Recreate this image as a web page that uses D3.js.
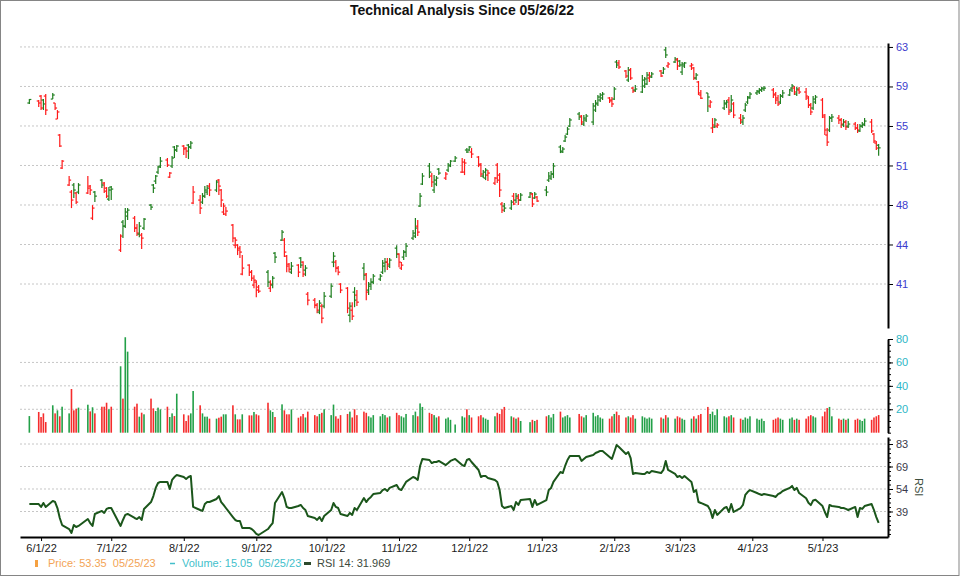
<!DOCTYPE html>
<html>
<head>
<meta charset="utf-8">
<script src="https://cdn.jsdelivr.net/npm/d3@7"></script>
<style>
  body { margin: 0; background: #fff; }
  svg { display: block; font-family: "Liberation Sans", Arial, sans-serif; }
  .legend text { white-space: pre; }
</style>
</head>
<body>
<div id="chart"></div>
<script>
// trading calendar
const firstDay = "2022-05-27";
const lastDay = "2023-05-25";
const holidays = ["2022-05-30", "2022-06-20", "2022-07-04", "2022-09-05", "2022-11-24",
  "2022-12-26", "2023-01-02", "2023-01-16", "2023-02-20", "2023-04-07"];

// daily OHLC, one line per month
const open = [
  57.55, 57.74,
  58.20, 57.83, 58.20, 57.92, 57.55, 56.05, 54.55, 51.46, 49.87, 49.21, 49.87, 49.12, 49.21, 49.12, 49.77, 46.77, 49.21, 50.33, 50.05, 49.58, 48.55,
  49.68, 43.78, 46.40, 46.02, 46.96, 46.77, 45.84, 45.27, 45.18, 45.84, 47.99, 49.87, 50.24, 51.08, 51.65, 52.21, 50.61, 51.65, 53.43, 53.15,
  53.52, 53.33, 53.61, 53.43, 48.18, 48.46, 48.27, 48.83, 49.21, 49.77, 49.40, 50.33, 49.40, 47.34, 47.15, 46.12, 44.24, 44.24, 43.96, 41.53, 42.37, 41.71, 40.50,
  40.78, 40.31, 41.71, 40.21, 40.50, 43.49, 44.71, 44.71, 43.21, 42.46, 41.71, 42.37, 43.03, 42.65, 41.90, 39.65, 39.09, 38.62, 37.97, 38.53, 38.53,
  39.46, 42.65, 42.65, 42.09, 40.59, 40.21, 37.68, 38.15, 39.84, 39.56, 42.09, 41.53, 40.03, 40.59, 40.78, 41.06, 41.71, 42.28, 42.65, 42.28, 43.96,
  43.40, 42.09, 43.12, 43.59, 44.90, 45.09, 46.02, 47.90, 49.96, 51.65, 50.71, 49.40, 49.96, 51.36, 50.52, 51.27, 51.65, 52.11, 51.08, 51.08, 53.15,
  53.15, 52.96, 52.49, 51.74, 50.71, 50.52, 50.80, 50.05, 51.74, 50.80, 48.09, 47.90, 47.71, 48.83, 48.46, 48.65, 48.46, 48.74, 49.02, 48.65, 48.74,
  49.40, 50.33, 50.52, 50.90, 53.43, 52.96, 53.99, 54.64, 55.39, 56.52, 56.33, 55.58, 55.96, 55.77, 56.89, 57.46, 57.83, 58.02, 58.02, 57.83,
  57.92, 61.39, 61.30, 60.55, 59.70, 60.64, 58.95, 58.77, 58.58, 59.14, 59.33, 59.89, 59.98, 60.55, 60.36, 62.52, 61.02, 61.39, 61.58,
  61.48, 60.45, 61.02, 61.02, 60.83, 59.89, 59.52, 58.30, 58.49, 57.27, 55.21, 55.30, 55.39, 57.08, 57.46, 57.83, 56.89, 57.46, 56.14, 55.77, 56.89, 57.64, 58.11,
  58.49, 58.58, 58.77, 58.86, 58.77, 58.39, 58.02, 57.64, 58.20, 58.30, 58.95, 58.95, 58.39, 58.77, 58.58, 58.02, 57.36, 57.08, 57.64,
  57.83, 56.24, 54.55, 55.02, 56.14, 56.14, 55.96, 55.49, 55.77, 55.39, 55.58, 55.21, 54.93, 55.39, 55.58, 55.77, 54.64, 53.80, 53.60
];
const high = [
  57.92, 57.83,
  58.30, 57.92, 58.39, 58.49, 57.55, 56.89, 54.64, 52.21, 50.71, 49.40, 50.05, 49.21, 50.05, 50.71, 49.87, 47.99, 49.30, 50.43, 50.15, 49.68, 49.68,
  49.77, 45.27, 46.59, 47.71, 47.71, 46.96, 46.21, 46.40, 45.37, 46.77, 48.09, 49.96, 50.80, 51.65, 52.49, 52.40, 51.08, 52.58, 53.52, 53.61,
  53.61, 53.43, 53.71, 53.99, 49.77, 48.93, 49.12, 49.77, 49.87, 50.05, 50.33, 50.43, 49.49, 48.18, 47.80, 46.21, 44.99, 44.34, 44.15, 43.31, 42.46, 41.90, 41.43,
  40.96, 40.50, 41.90, 40.96, 41.34, 43.59, 45.65, 44.90, 43.31, 42.56, 42.65, 42.46, 43.12, 42.74, 42.37, 39.84, 39.28, 38.81, 39.09, 38.72, 39.84,
  40.68, 43.59, 42.84, 42.28, 40.68, 40.31, 38.90, 38.90, 40.31, 40.03, 42.56, 41.62, 40.78, 41.15, 41.53, 41.53, 42.84, 43.03, 43.03, 43.03, 44.24,
  43.49, 42.65, 43.78, 44.43, 45.65, 46.77, 46.59, 49.12, 50.99, 51.93, 50.99, 50.80, 50.71, 51.46, 51.08, 51.93, 52.21, 52.58, 52.40, 52.30, 53.33,
  53.52, 53.33, 52.58, 51.93, 51.27, 51.46, 51.27, 50.61, 51.93, 50.99, 48.27, 48.18, 48.46, 49.12, 49.12, 49.02, 49.12, 49.21, 49.12, 49.21, 48.83,
  49.77, 51.08, 51.18, 51.93, 53.61, 53.43, 54.55, 55.30, 56.14, 56.71, 56.42, 56.42, 56.52, 57.55, 57.83, 58.30, 58.49, 58.58, 58.11, 58.11,
  59.05, 61.58, 61.58, 60.64, 60.92, 60.83, 59.05, 59.24, 60.17, 59.98, 60.45, 60.45, 60.45, 60.64, 60.92, 62.80, 61.39, 61.86, 61.77,
  61.58, 61.39, 61.39, 61.30, 60.92, 60.36, 59.61, 58.77, 58.49, 57.83, 56.14, 56.14, 55.67, 57.83, 57.83, 58.11, 58.30, 57.64, 56.52, 56.42, 57.55, 58.20, 58.58,
  58.77, 58.95, 59.05, 59.14, 58.95, 58.58, 58.30, 58.39, 58.77, 58.86, 59.33, 59.14, 59.05, 59.05, 58.95, 58.20, 57.55, 58.20, 58.30,
  58.02, 56.52, 55.21, 56.33, 56.52, 56.42, 56.14, 56.05, 55.96, 55.86, 55.77, 55.58, 55.58, 55.77, 56.14, 56.05, 54.74, 53.99, 53.70
];
const low = [
  57.46, 57.17,
  56.89, 56.89, 56.42, 57.92, 56.89, 56.05, 53.43, 51.37, 49.77, 47.71, 48.65, 48.09, 49.02, 49.02, 48.93, 46.59, 48.27, 49.58, 49.12, 48.65, 48.37,
  48.46, 43.59, 44.90, 45.84, 46.59, 45.46, 45.09, 44.99, 43.87, 45.65, 47.52, 49.12, 49.96, 50.90, 51.46, 51.55, 50.52, 51.46, 52.40, 52.96,
  52.68, 52.40, 52.30, 53.24, 48.09, 47.15, 48.09, 48.65, 48.93, 48.83, 49.21, 48.93, 47.80, 47.06, 46.96, 44.52, 43.96, 43.31, 43.03, 41.43, 41.34, 40.87, 40.21,
  39.37, 39.75, 40.31, 39.84, 40.21, 42.56, 44.62, 43.12, 41.71, 41.71, 41.53, 41.25, 42.09, 41.25, 41.34, 38.62, 38.34, 37.87, 37.78, 36.93, 38.34,
  39.28, 42.18, 41.71, 41.43, 39.75, 37.87, 37.03, 37.22, 38.43, 38.53, 40.96, 39.09, 39.56, 40.03, 40.59, 40.87, 41.53, 41.71, 41.90, 42.09, 43.03,
  42.18, 41.90, 42.84, 43.12, 44.71, 44.90, 45.09, 47.80, 49.87, 50.52, 49.68, 49.12, 49.77, 50.80, 50.33, 51.08, 51.55, 52.02, 50.99, 50.80, 52.86,
  53.05, 52.40, 51.55, 50.61, 50.52, 50.33, 50.24, 49.87, 50.05, 48.74, 47.24, 47.34, 47.52, 47.99, 48.18, 47.99, 48.37, 48.65, 47.80, 48.55, 48.27,
  48.83, 50.15, 50.33, 50.52, 52.86, 52.86, 53.89, 54.55, 55.30, 55.96, 55.49, 55.39, 55.77, 55.49, 56.71, 57.27, 57.64, 57.83, 57.55, 57.17,
  57.83, 60.83, 60.73, 59.89, 59.52, 59.70, 58.49, 58.58, 58.49, 58.95, 59.24, 59.52, 59.89, 59.98, 60.27, 61.77, 60.83, 61.30, 60.64,
  60.92, 60.17, 60.83, 60.64, 59.70, 59.70, 58.30, 57.92, 56.71, 57.08, 54.74, 55.21, 55.21, 56.89, 57.08, 56.42, 56.71, 56.14, 55.58, 55.49, 56.71, 57.46, 57.92,
  58.30, 58.39, 58.58, 58.67, 58.02, 57.46, 57.27, 57.46, 58.02, 58.20, 58.58, 58.30, 58.20, 58.39, 57.83, 57.08, 56.42, 56.89, 57.46,
  56.14, 54.55, 53.52, 54.83, 55.77, 55.58, 55.21, 55.30, 55.02, 55.21, 55.02, 54.74, 54.83, 55.21, 55.39, 54.74, 53.80, 53.15, 52.60
];
const close = [
  57.88, 57.55,
  57.08, 57.46, 56.89, 58.30, 57.08, 56.71, 53.52, 52.11, 50.33, 48.46, 49.40, 48.27, 49.87, 49.58, 49.40, 47.71, 48.83, 49.87, 49.30, 48.83, 49.40,
  49.49, 45.09, 46.02, 47.34, 47.52, 45.84, 45.37, 46.02, 44.90, 46.68, 47.80, 49.58, 50.71, 51.55, 52.11, 51.74, 50.99, 52.40, 53.15, 53.52,
  53.24, 53.05, 53.43, 53.80, 49.21, 47.71, 48.83, 49.40, 49.58, 49.40, 50.15, 49.77, 48.46, 47.90, 47.43, 44.90, 44.71, 43.78, 43.59, 42.09, 41.71, 41.15, 40.96,
  40.03, 39.93, 40.78, 40.59, 41.15, 43.12, 45.46, 43.59, 42.28, 41.99, 42.28, 41.71, 42.37, 41.53, 42.09, 39.09, 38.62, 38.15, 38.81, 37.40, 39.46,
  40.40, 43.21, 42.09, 41.71, 40.03, 38.34, 38.53, 37.59, 39.09, 38.90, 41.43, 39.84, 40.40, 40.78, 41.34, 41.34, 42.56, 42.65, 42.46, 42.84, 43.40,
  42.65, 42.37, 43.59, 44.15, 45.37, 45.84, 45.46, 48.83, 50.71, 51.08, 50.15, 50.33, 50.52, 50.99, 50.90, 51.74, 52.11, 52.40, 52.02, 51.93, 52.96,
  53.43, 52.77, 51.83, 50.90, 51.08, 51.27, 50.99, 50.52, 50.33, 49.40, 47.52, 47.71, 48.27, 48.09, 48.83, 48.46, 48.93, 49.12, 48.09, 49.02, 48.37,
  49.21, 50.71, 50.90, 51.65, 53.05, 53.24, 54.36, 55.11, 55.96, 56.24, 55.77, 56.14, 56.33, 57.27, 57.55, 58.11, 58.30, 58.39, 57.74, 57.46,
  58.86, 61.11, 60.92, 60.08, 60.64, 59.89, 58.67, 58.86, 59.70, 59.80, 60.17, 60.08, 60.27, 60.08, 60.73, 62.05, 61.20, 61.67, 61.02,
  61.11, 61.20, 61.30, 61.11, 59.89, 60.17, 58.49, 58.00, 58.11, 57.64, 55.49, 55.96, 55.49, 57.55, 57.64, 56.71, 57.83, 56.42, 55.96, 56.14, 57.36, 58.02, 58.39,
  58.67, 58.77, 58.95, 58.95, 58.30, 57.83, 57.46, 58.20, 58.49, 58.77, 59.14, 58.58, 58.86, 58.58, 58.20, 57.36, 56.71, 57.92, 58.11,
  56.42, 55.02, 53.89, 56.14, 56.24, 55.96, 55.58, 55.77, 55.30, 55.58, 55.21, 55.02, 55.39, 55.49, 55.86, 54.93, 53.99, 53.33, 53.35
];
// daily volume (millions), one line per month
const volume = [
  14.2, 17.7,
  13.4, 16.5, 9.1, 23.4, 16.5, 19.1, 14.0, 22.2, 16.5, 37.3, 19.1, 20.5, 21.4, 23.9, 18.2, 21.7, 16.5, 22.2, 22.2, 25.6, 20.0,
  22.2, 56.7, 29.1, 81.5, 69.2, 22.2, 24.8, 13.7, 17.1, 15.7, 29.1, 20.8, 18.5, 21.4, 19.9, 22.2, 13.4, 16.5, 14.2, 33.3,
  15.7, 10.0, 14.8, 16.5, 35.6, 23.4, 16.5, 13.7, 13.7, 12.0, 12.0, 12.8, 13.7, 15.7, 15.7, 23.4, 15.7, 11.4, 11.4, 15.7, 14.8, 14.8, 17.7,
  15.7, 14.8, 25.6, 19.1, 17.7, 13.4, 24.2, 19.1, 15.7, 15.7, 19.9, 12.8, 14, 16, 13, 18, 15, 14, 16, 17, 20,
  15, 24, 14, 12, 15, 16, 18, 13, 20, 15, 18, 17, 14, 13, 15, 14, 16, 15, 13, 14, 17,
  15, 14, 13, 16, 15, 18, 14, 25, 22, 17, 16, 15, 13, 14, 12, 13, 11, 7, 14, 13, 20,
  15, 13, 14, 15, 13, 12, 11, 14, 17, 16, 20, 22, 14, 13, 12, 13, 10, 9, 11, 10, 11,
  14, 15, 13, 16, 18, 13, 14, 15, 13, 16, 14, 13, 15, 17, 14, 15, 13, 12, 12, 14,
  16, 18, 15, 13, 14, 13, 15, 12, 14, 13, 12, 13, 12, 13, 12, 15, 13, 12, 14,
  13, 12, 11, 12, 14, 12, 15, 16, 22, 16, 18, 15, 20, 14, 13, 14, 15, 13, 12, 11, 13, 12, 14,
  12, 11, 12, 10, 11, 12, 13, 12, 11, 12, 13, 11, 12, 11, 12, 14, 15, 14, 13,
  14, 18, 21, 22, 14, 12, 11, 12, 11, 12, 11, 12, 11, 10, 12, 11, 13, 14, 15.05
];
// RSI 14, one line per month
const rsi = [
  44.2, 44.2,
  42.3, 44.9, 42.3, 46.2, 45.5, 41.6, 35.1, 30.5, 27.9, 25.3, 30.5, 29.2, 29.9, 34.4, 31.8, 29.9, 37.7, 39.7, 38.4, 41.0, 41.6,
  41.6, 29.9, 33.8, 37.1, 37.7, 35.1, 34.4, 35.7, 33.8, 41.0, 45.5, 49.4, 54.7, 57.9, 58.6, 58.6, 54.0, 59.9, 61.8, 63.1,
  61.8, 60.5, 61.8, 62.5, 42.3, 40.3, 39.7, 44.2, 45.5, 45.5, 47.5, 49.4, 45.5, 43.6, 41.6, 35.7, 33.8, 33.1, 33.1, 28.6, 28.6, 27.9, 26.6,
  24.7, 24.0, 27.9, 29.9, 31.8, 44.9, 52.0, 48.1, 42.3, 41.6, 41.6, 42.9, 43.6, 41.6, 40.3, 36.4, 35.1, 33.8, 35.7, 33.1, 36.4,
  40.3, 44.9, 42.3, 41.6, 37.7, 36.4, 38.4, 37.1, 41.6, 40.3, 48.1, 45.5, 47.5, 48.8, 50.7, 51.4, 53.3, 54.0, 52.7, 54.7, 56.6,
  54.0, 53.3, 56.0, 58.6, 61.8, 61.2, 59.9, 69.0, 73.6, 72.9, 70.9, 71.6, 71.6, 72.3, 69.6, 70.9, 72.3, 73.6, 69.6, 69.0, 72.9,
  73.6, 71.6, 66.4, 61.8, 62.5, 62.5, 61.2, 59.9, 58.6, 53.3, 42.9, 41.6, 42.9, 40.3, 45.5, 43.6, 46.8, 47.5, 42.3, 46.8, 43.6,
  46.8, 53.3, 54.7, 58.6, 65.1, 64.4, 69.0, 72.9, 75.5, 75.5, 72.3, 73.6, 74.9, 76.2, 77.5, 78.1, 78.8, 78.8, 74.9, 73.6,
  78.1, 82.7, 81.4, 76.8, 78.1, 74.2, 63.8, 64.4, 63.8, 63.8, 65.1, 64.4, 65.7, 64.4, 66.4, 72.3, 66.4, 63.8, 61.8,
  62.5, 61.2, 62.5, 58.6, 52.0, 53.3, 45.5, 44.9, 42.9, 40.3, 35.1, 40.3, 37.1, 41.6, 42.3, 39.0, 44.2, 39.0, 41.6, 43.6, 50.1, 52.0, 53.3,
  51.4, 50.7, 50.1, 50.7, 49.4, 48.8, 50.7, 51.4, 52.7, 54.7, 56.0, 53.3, 54.7, 51.4, 48.0, 45.0, 43.5, 46.5, 47.0,
  42.9, 39.0, 35.7, 43.6, 42.9, 42.3, 41.6, 41.6, 41.0, 40.3, 42.3, 35.7, 41.6, 41.0, 42.9, 44.2, 40.3, 35.7, 31.969
];

// axis ticks and labels
const monthTicks = ["2022-06-01", "2022-07-01", "2022-08-01", "2022-09-01", "2022-10-01", "2022-11-01",
  "2022-12-01", "2023-01-01", "2023-02-01", "2023-03-01", "2023-04-01", "2023-05-01"];
const priceTickValues = [62.8, 59.1, 55.4, 51.7, 48.0, 44.3, 40.6];
const priceTickLabels = ["63", "59", "55", "51", "48", "44", "41"];
const volumeTickValues = [20, 40, 60, 80];
const rsiTickValues = [83.33, 68.67, 54, 39.33];
const rsiTickLabels = ["83", "69", "54", "39"];

const parseDay = d3.utcParse("%Y-%m-%d");
const fmtDay = d3.utcFormat("%Y-%m-%d");
const fmtLegendDay = d3.utcFormat("%m/%d/%y");
const fmtMonth = d3.utcFormat("%-m/%-d/%y");

const days = d3.utcDay
  .range(parseDay(firstDay), d3.utcDay.offset(parseDay(lastDay), 1))
  .filter((d) => d.getUTCDay() % 6 !== 0 && !holidays.includes(fmtDay(d)));

const data = days.map((date, i) => ({
  date,
  open: open[i],
  high: high[i],
  low: low[i],
  close: close[i],
  volume: volume[i],
  rsi: rsi[i],
  prevClose: i > 0 ? close[i - 1] : open[i],
}));

const width = 960;
const height = 576;
const plotLeft = 20;
const plotRight = 888;

const colors = {
  up: "#1f7f1f",
  down: "#ff1a1a",
  volUp: "#23a048",
  volDown: "#f52c2c",
  grid: "#c6c6c6",
  priceLabel: "#3c3ccc",
  volLabel: "#2db6c6",
  rsiLabel: "#3a3a4a",
  rsiLine: "#1b561b",
};

const x = d3
  .scaleUtc()
  .domain([parseDay("2022-05-23"), parseDay("2023-05-29")])
  .range([plotLeft, plotRight]);
const yPrice = d3.scaleLinear().domain([36.48, 63.17]).range([328, 43]);
const yVol = d3.scaleLinear().domain([0, 80]).range([432.7, 339]);
const yRsi = d3.scaleLinear().domain([22.7, 87.9]).range([537, 437]);

const svg = d3
  .select("#chart")
  .append("svg")
  .attr("width", width)
  .attr("height", height)
  .attr("viewBox", [0, 0, width, height]);

svg
  .append("rect")
  .attr("x", 0.5)
  .attr("y", 0.5)
  .attr("width", width - 1.5)
  .attr("height", height - 1)
  .attr("fill", "#fff")
  .attr("stroke", "#858585");

// title
svg
  .append("text")
  .attr("x", 462)
  .attr("y", 15)
  .attr("text-anchor", "middle")
  .attr("font-size", 14)
  .attr("font-weight", "bold")
  .attr("fill", "#111")
  .text(`Technical Analysis Since ${fmtLegendDay(parseDay("2022-05-26"))}`);

// dashed gridlines for a panel
function drawGrid(scale, values) {
  svg
    .append("g")
    .selectAll("line")
    .data(values)
    .join("line")
    .attr("x1", plotLeft)
    .attr("x2", plotRight)
    .attr("y1", (d) => scale(d))
    .attr("y2", (d) => scale(d))
    .attr("stroke", colors.grid)
    .attr("stroke-dasharray", "2,2");
}

drawGrid(yPrice, priceTickValues);
drawGrid(yVol, [20, 40, 60]);
drawGrid(yRsi, rsiTickValues);

// right axes
function styleAxis(g, labelColor) {
  g.select(".domain").attr("stroke", "#000").attr("stroke-width", 2);
  g.selectAll(".tick line").attr("stroke", "#000");
  g.selectAll(".tick text").attr("fill", labelColor).attr("font-size", 11);
}

svg
  .append("g")
  .attr("transform", `translate(${plotRight},0)`)
  .call(
    d3
      .axisRight(yPrice)
      .tickValues(priceTickValues)
      .tickFormat((d, i) => priceTickLabels[i])
      .tickSize(5)
      .tickSizeOuter(0)
      .tickPadding(3)
  )
  .call((g) => styleAxis(g, colors.priceLabel));

svg
  .append("g")
  .attr("transform", `translate(${plotRight},0)`)
  .call(d3.axisRight(yVol).tickValues(d3.range(0, 81, 5)).tickFormat("").tickSize(3).tickSizeOuter(0))
  .call((g) => styleAxis(g, colors.volLabel));
svg
  .append("g")
  .attr("transform", `translate(${plotRight},0)`)
  .call(d3.axisRight(yVol).tickValues(volumeTickValues).tickSize(5).tickSizeOuter(0).tickPadding(3))
  .call((g) => styleAxis(g, colors.volLabel))
  .call((g) => g.select(".domain").remove());

const rsiStep = (rsiTickValues[0] - rsiTickValues[1]) / 5;
const rsiMinor = d3
  .range(-6, 18)
  .map((k) => rsiTickValues[3] + k * rsiStep)
  .filter((v) => v > yRsi.domain()[0] && v < yRsi.domain()[1]);
svg
  .append("g")
  .attr("transform", `translate(${plotRight},0)`)
  .call(d3.axisRight(yRsi).tickValues(rsiMinor).tickFormat("").tickSize(3).tickSizeOuter(0))
  .call((g) => styleAxis(g, colors.rsiLabel));
svg
  .append("g")
  .attr("transform", `translate(${plotRight},0)`)
  .call(
    d3
      .axisRight(yRsi)
      .tickValues(rsiTickValues)
      .tickFormat((d, i) => rsiTickLabels[i])
      .tickSize(5)
      .tickSizeOuter(0)
      .tickPadding(3)
  )
  .call((g) => styleAxis(g, colors.rsiLabel))
  .call((g) => g.select(".domain").remove());

svg
  .append("text")
  .attr("transform", "translate(915,478) rotate(90)")
  .attr("font-size", 11)
  .attr("fill", "#3d4f3d")
  .text("RSI");

// date axis
svg
  .append("g")
  .attr("transform", "translate(0,537)")
  .call(
    d3
      .axisBottom(x)
      .tickValues(monthTicks.map(parseDay))
      .tickFormat(fmtMonth)
      .tickSize(4)
      .tickSizeOuter(0)
      .tickPadding(3)
  )
  .call((g) => styleAxis(g, "#1a1a1a"));

// OHLC bars
const bars = svg
  .append("g")
  .attr("stroke-width", 1.2)
  .selectAll("g")
  .data(data)
  .join("g")
  .attr("stroke", (d) => (d.close >= d.prevClose ? colors.up : colors.down));
bars
  .append("line")
  .attr("x1", (d) => x(d.date))
  .attr("x2", (d) => x(d.date))
  .attr("y1", (d) => yPrice(d.high))
  .attr("y2", (d) => yPrice(d.low));
bars
  .append("line")
  .attr("x1", (d) => x(d.date) - 2)
  .attr("x2", (d) => x(d.date))
  .attr("y1", (d) => yPrice(d.open))
  .attr("y2", (d) => yPrice(d.open));
bars
  .append("line")
  .attr("x1", (d) => x(d.date))
  .attr("x2", (d) => x(d.date) + 2)
  .attr("y1", (d) => yPrice(d.close))
  .attr("y2", (d) => yPrice(d.close));

// volume bars
svg
  .append("g")
  .selectAll("rect")
  .data(data)
  .join("rect")
  .attr("x", (d) => x(d.date) - 0.8)
  .attr("width", 1.6)
  .attr("y", (d) => yVol(d.volume))
  .attr("height", (d) => yVol(0) - yVol(d.volume))
  .attr("fill", (d) => (d.close >= d.open ? colors.volUp : colors.volDown));

// RSI line
svg
  .append("path")
  .datum(data)
  .attr("fill", "none")
  .attr("stroke", colors.rsiLine)
  .attr("stroke-width", 2)
  .attr("stroke-linejoin", "round")
  .attr("d", d3.line().x((d) => x(d.date)).y((d) => yRsi(d.rsi)));

// legend
const last = data[data.length - 1];
const legend = svg.append("g").attr("class", "legend").attr("font-size", 11);
legend.append("rect").attr("x", 35).attr("y", 560).attr("width", 3).attr("height", 7).attr("fill", "#f5a142");
legend
  .append("text")
  .attr("x", 48)
  .attr("y", 567)
  .attr("fill", "#f3a456")
  .text(`Price: ${last.close.toFixed(2)}  ${fmtLegendDay(last.date)}`);
legend
  .append("line")
  .attr("x1", 170)
  .attr("x2", 175)
  .attr("y1", 563.5)
  .attr("y2", 563.5)
  .attr("stroke", "#43bfcb")
  .attr("stroke-width", 1.5);
legend
  .append("text")
  .attr("x", 182)
  .attr("y", 567)
  .attr("fill", "#43bfcb")
  .text(`Volume: ${last.volume.toFixed(2)}  ${fmtLegendDay(last.date)}`);
legend.append("rect").attr("x", 304).attr("y", 562).attr("width", 7).attr("height", 3).attr("fill", "#2c4a2c");
legend
  .append("text")
  .attr("x", 317)
  .attr("y", 567)
  .attr("fill", "#3c4a3c")
  .text(`RSI 14: ${last.rsi.toFixed(3)}`);
</script>
</body>
</html>
